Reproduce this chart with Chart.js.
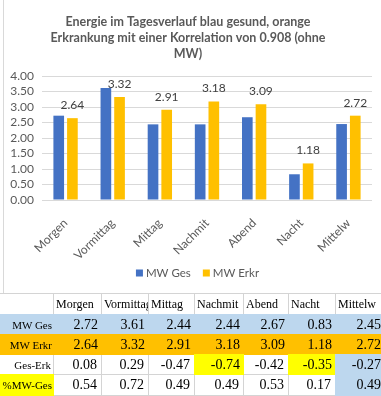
<!DOCTYPE html>
<html><head><meta charset="utf-8">
<script src="https://cdn.jsdelivr.net/npm/chart.js@4"></script>
<style>
html,body{margin:0;padding:0;background:#fff;overflow:hidden;width:381px;height:396px;position:relative;}
#wrap{position:absolute;left:4px;top:0;width:377px;height:293px;}
#leftline{position:absolute;left:3px;top:0;width:1px;height:293px;background:#d9d9d9;}
#tbl{position:absolute;left:0;top:0;width:381px;height:396px;font-family:"Liberation Serif","Times New Roman",serif;color:#000;}
.cell{position:absolute;box-sizing:border-box;overflow:hidden;white-space:nowrap;display:flex;align-items:center;}
.gl{position:absolute;background:#d4d4d4;}
</style>
</head><body>
<div id="leftline"></div>
<div id="wrap"><canvas id="c" width="377" height="293"></canvas></div>
<div id="tbl"></div>
<script>
const categories = ['Morgen','Vormittag','Mittag','Nachmit','Abend','Nacht','Mittelw'];
const tableHeaders = ['Morgen','Vormittag','Mittag','Nachmit','Abend','Nacht','Mittelw'];
const seriesNames = ['MW Ges','MW Erkr'];
const mwGes  = [2.72, 3.61, 2.44, 2.44, 2.67, 0.83, 2.45];
const mwErkr = [2.64, 3.32, 2.91, 3.18, 3.09, 1.18, 2.72];
const gesErk = [0.08, 0.29, -0.47, -0.74, -0.42, -0.35, -0.27];
const pctMwGes = [0.54, 0.72, 0.49, 0.49, 0.53, 0.17, 0.49];
const rowLabels = ['MW Ges','MW Erkr','Ges-Erk','%MW-Ges'];
const yTicks = [0.00, 0.50, 1.00, 1.50, 2.00, 2.50, 3.00, 3.50, 4.00];
const titleLines = ['Energie im Tagesverlauf blau gesund, orange','Erkrankung mit einer Korrelation von 0.908 (ohne','MW)'];

const grey = '#595959';
const chartFont = 'Lato, "Open Sans", sans-serif';

const labelPlugin = {
  id:'valLabels',
  afterDatasetsDraw(chart){
    const ctx = chart.ctx;
    const meta = chart.getDatasetMeta(1);
    ctx.save();
    ctx.font = '12px ' + chartFont;
    ctx.fillStyle = '#404040';
    ctx.textAlign = 'center';
    ctx.textBaseline = 'middle';
    meta.data.forEach((bar,i)=>{
      ctx.fillText(chart.data.datasets[1].data[i].toFixed(2), bar.x, bar.y - 13);
    });
    ctx.restore();
  }
};

const legendPlugin = {
  id:'customLegend',
  afterDraw(chart){
    const ctx = chart.ctx;
    ctx.save();
    ctx.font = '11.5px ' + chartFont;
    ctx.textBaseline = 'middle';
    ctx.textAlign = 'left';
    const box = 7, gapText = 3, gapItem = 12;
    const ds = chart.data.datasets;
    const widths = ds.map(d => box + gapText + ctx.measureText(d.label).width);
    const total = widths.reduce((a,b)=>a+b,0) + gapItem*(ds.length-1);
    let x = chart.width/2 - total/2 + 5;
    const y = 273;
    ds.forEach((d,i)=>{
      ctx.fillStyle = d.backgroundColor;
      ctx.fillRect(x, y - box/2, box, box);
      ctx.fillStyle = grey;
      ctx.fillText(d.label, x + box + gapText, y + 0.5);
      x += widths[i] + gapItem;
    });
    ctx.restore();
  }
};

new Chart(document.getElementById('c'), {
  type:'bar',
  data:{
    labels: categories,
    datasets:[
      {label:seriesNames[0], data:mwGes, backgroundColor:'#4472C4', categoryPercentage:0.58, barPercentage:0.78},
      {label:seriesNames[1], data:mwErkr, backgroundColor:'#FFC000', categoryPercentage:0.58, barPercentage:0.78}
    ]
  },
  options:{
    responsive:false, animation:false, devicePixelRatio:1,
    layout:{padding:{left:0,right:9,top:0,bottom:0}},
    plugins:{
      tooltip:{enabled:false},
      legend:{display:false},
      title:{display:true,text:titleLines,color:grey,font:{family:chartFont,size:12.5,weight:'bold',lineHeight:1.28},padding:{top:14,bottom:14}}
    },
    scales:{
      x:{grid:{display:false},border:{display:false},
         ticks:{minRotation:45,maxRotation:45,color:grey,font:{family:chartFont,size:12},padding:8},
         afterFit(s){s.height=93;}},
      y:{min:yTicks[0],max:yTicks[yTicks.length-1],
         afterBuildTicks(s){s.ticks = yTicks.map(v=>({value:v}));},
         ticks:{autoSkip:false,color:grey,font:{family:chartFont,size:12},padding:8,callback:v=>Number(v).toFixed(2)},
         grid:{color:'#d9d9d9',drawTicks:false},border:{display:false},
         afterFit(s){s.width=38;}}
    }
  },
  plugins:[labelPlugin, legendPlugin]
});

// table
const colX = [0,53,101,148,194,243,288,335,384];
const rowY = [293,314,334,354,374,395];
const tbl = document.getElementById('tbl');
function add(el){tbl.appendChild(el);return el;}
for(let i=1;i<colX.length-1;i++){
  const d=document.createElement('div');d.className='gl';
  d.style.left=colX[i]+'px';d.style.top=rowY[0]+'px';d.style.width='1px';d.style.height=(rowY[5]-rowY[0])+'px';add(d);
}
for(let j=0;j<rowY.length;j++){
  const d=document.createElement('div');d.className='gl';
  d.style.left='0px';d.style.top=rowY[j]+'px';d.style.height='1px';d.style.width='381px';add(d);
}
const fills = {blue:'#BDD7EE',orange:'#FFC000',yellow:'#FFFF00'};
function cell(c,r,text,opts){
  const d=document.createElement('div');d.className='cell';
  const x0=colX[c], x1=colX[c+1], y0=rowY[r], y1=rowY[r+1];
  d.style.left=x0+'px';d.style.top=(y0+1)+'px';d.style.width=(x1-x0)+'px';d.style.height=(y1-y0-1)+'px';
  if(opts.fill){d.style.background=opts.fill;d.style.left=x0+'px';d.style.width=(x1-x0+1)+'px';d.style.top=y0+'px';d.style.height=(y1-y0+1)+'px';}
  d.style.fontSize=opts.size+'px';
  d.style.justifyContent=opts.align==='left'?'flex-start':'flex-end';
  if(opts.align==='left') d.style.paddingLeft='3px'; else d.style.paddingRight=(opts.pr||4)+'px';
  d.textContent=text;
  add(d);
}
tableHeaders.forEach((h,i)=>cell(i+1,0,h,{size:12,align:'left'}));
const rows=[mwGes,mwErkr,gesErk,pctMwGes];
const rowFill=[fills.blue,fills.orange,null,null];
rows.forEach((vals,r)=>{
  const lf = r===3?fills.yellow:rowFill[r];
  cell(0,r+1,rowLabels[r],{size:11,align:'right',pr:2,fill:lf});
  vals.forEach((v,i)=>{
    let f=rowFill[r];
    if(r===2 && (i===3||i===5)) f=fills.yellow;
    if(r>=2 && i===6) f=fills.blue;
    cell(i+1,r+1,v.toFixed(2),{size:14,align:'right',pr:4,fill:f});
  });
});
</script>
</body></html>
